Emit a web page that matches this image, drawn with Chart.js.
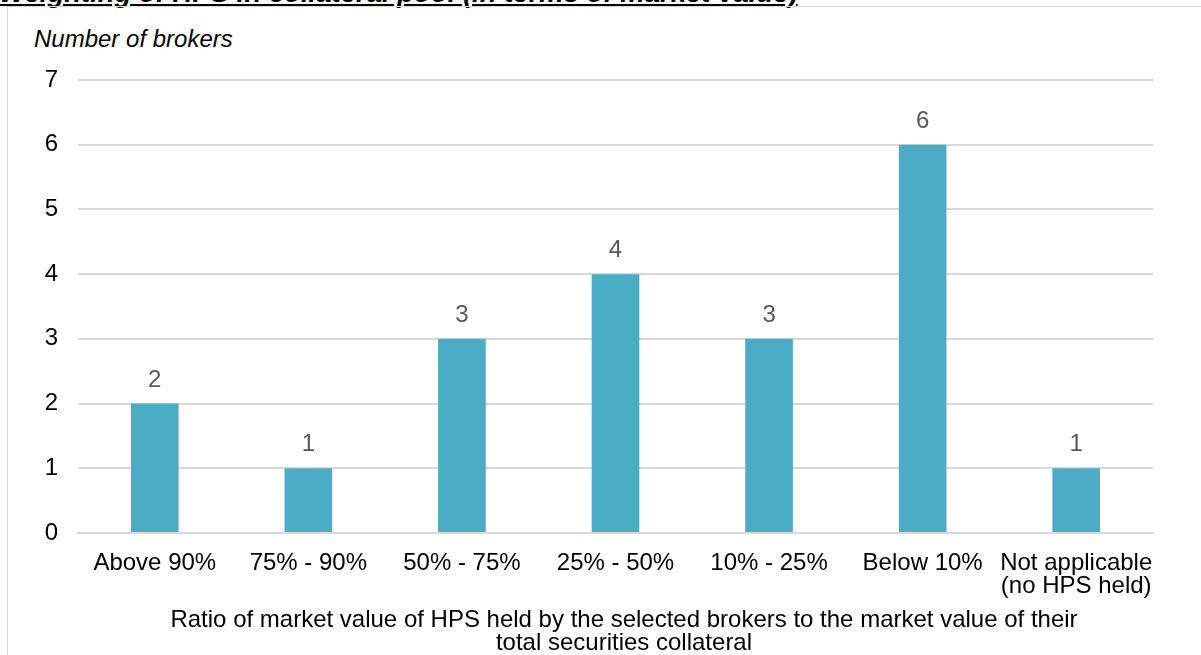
<!DOCTYPE html>
<html>
<head>
<meta charset="utf-8">
<script src="https://cdn.jsdelivr.net/npm/chart.js@4"></script>
<style>
  html, body { margin: 0; padding: 0; background: #fff; }
  body { width: 1201px; height: 655px; position: relative; overflow: hidden; font-family: "Liberation Sans", Arial, sans-serif; }
  #title { position: absolute; left: -1px; top: -21px; font-size: 27.5px; line-height: 28px; font-weight: bold; font-style: italic; text-decoration: underline; white-space: nowrap; color: #000; }
  #frame { position: absolute; left: 7px; top: 6px; width: 1210px; height: 680px; border: 1.5px solid #d9d9d9; box-sizing: border-box; }
  #ytitle { position: absolute; left: 34px; top: 26px; font-size: 24px; line-height: 26px; font-style: italic; color: #000; }
  #xtitle { position: absolute; left: 124px; width: 1000px; top: 607px; font-size: 24px; line-height: 23px; text-align: center; color: #000; }
  #wrap { position: absolute; left: 8px; top: 7px; width: 1193px; height: 648px; }
</style>
</head>
<body>
<div id="title">Weighting of HPS in collateral pool (in terms of market value)</div>
<div id="frame"></div>
<div id="ytitle">Number of brokers</div>
<div id="wrap"><canvas id="chart"></canvas></div>
<div id="xtitle"></div>
<script>
// categories and values
const categories = ['Above 90%', '75% - 90%', '50% - 75%', '25% - 50%', '10% - 25%', 'Below 10%', ['Not applicable', '(no HPS held)']];
const brokers = [2, 1, 3, 4, 3, 6, 1];
const yTicks = [0, 1, 2, 3, 4, 5, 6, 7];
const xTitle = ['Ratio of market value of HPS held by the selected brokers to the market value of their', 'total securities collateral'];

// axis title sits centred on the whole frame, not on the plot area
document.getElementById('xtitle').innerHTML = xTitle.join('<br>');

const font = { family: '"Liberation Sans", Arial, sans-serif', size: 24, lineHeight: 0.96 };

// simple value labels above the bars
const barLabels = {
    id: 'barLabels',
    afterDatasetsDraw(chart) {
        const c = chart.ctx;
        const meta = chart.getDatasetMeta(0);
        c.save();
        c.font = '24px "Liberation Sans", Arial, sans-serif';
        c.fillStyle = '#595959';
        c.textAlign = 'center';
        c.textBaseline = 'alphabetic';
        meta.data.forEach((bar, i) => {
            c.fillText(String(brokers[i]), bar.x, bar.y - 17);
        });
        c.restore();
    }
};

new Chart(document.getElementById('chart'), {
    type: 'bar',
    data: {
        labels: categories,
        datasets: [{
            data: brokers,
            backgroundColor: '#4bacc6',
            categoryPercentage: 1,
            barPercentage: 0.31,
        }],
    },
    options: {
        responsive: true,
        maintainAspectRatio: false,
        animation: false,
        layout: { padding: { top: 73, right: 48, left: 0, bottom: 0 } },
        plugins: {
            legend: { display: false },
            tooltip: { enabled: false },
        },
        scales: {
            x: {
                grid: { display: false, drawTicks: false },
                border: { color: '#d9d9d9', width: 2 },
                ticks: { color: '#000', font: font, padding: 19, maxRotation: 0, autoSkip: false },
                afterFit(scale) { scale.height = 122; },
            },
            y: {
                min: 0,
                max: 7,
                afterBuildTicks(scale) { scale.ticks = yTicks.map(v => ({ value: v })); },
                grid: { color: '#d9d9d9', lineWidth: 2, drawTicks: false },
                border: { display: false },
                ticks: { color: '#000', font: font, padding: 20 },
                afterFit(scale) { scale.width = 70; },
            },
        },
    },
    plugins: [barLabels],
});
</script>
</body>
</html>
